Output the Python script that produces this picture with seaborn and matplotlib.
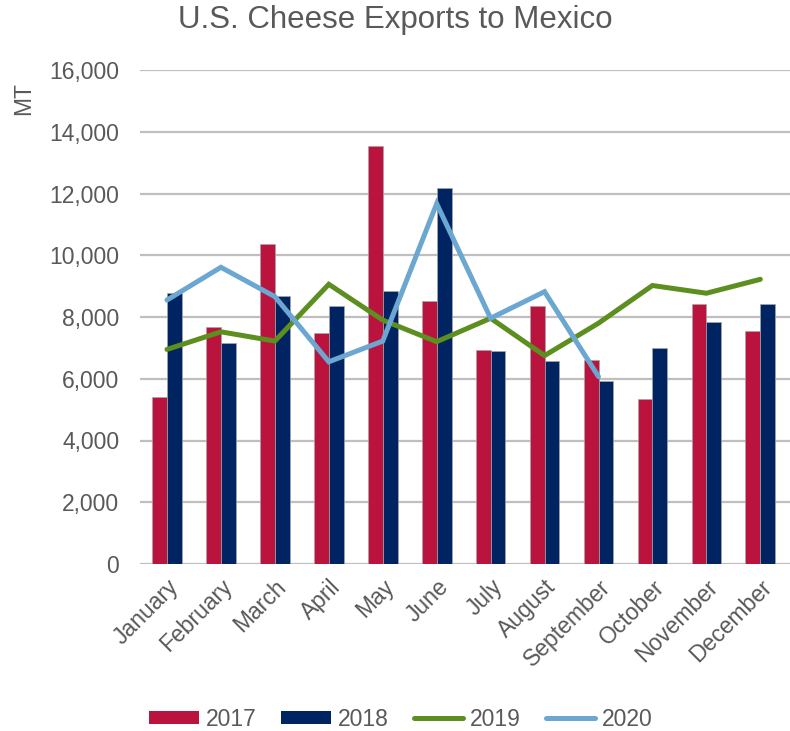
import matplotlib
matplotlib.use("Agg")
import matplotlib.pyplot as plt
import seaborn as sns
import pandas as pd
import numpy as np
from matplotlib.patches import Patch
from matplotlib.lines import Line2D

months = ["January", "February", "March", "April", "May", "June", "July",
          "August", "September", "October", "November", "December"]
exports_2017 = [5400, 7690, 10360, 7470, 13550, 8520, 6940, 8350, 6600, 5360, 8430, 7560]
exports_2018 = [8770, 7150, 8680, 8350, 8850, 12170, 6900, 6560, 5940, 6980, 7850, 8430]
exports_2019 = [6950, 7520, 7220, 9060, 7900, 7200, 7960, 6750, 7800, 9020, 8770, 9220]
exports_2020 = [8550, 9610, 8660, 6550, 7220, 11670, 7960, 8820, 6070]

bar_colors = {"2017": "#BA133D", "2018": "#002361"}
color_2019 = "#5C8F1F"
color_2020 = "#6BA7D0"
text_gray = "#595959"

bars = pd.DataFrame({
    "month": months * 2,
    "year": ["2017"] * 12 + ["2018"] * 12,
    "MT": exports_2017 + exports_2018,
})

sns.set_style("white")
plt.rcParams["font.family"] = ["Liberation Sans", "DejaVu Sans"]

fig = plt.figure(figsize=(7.9, 7.31), dpi=100)
ax = fig.add_axes([140 / 790, 1 - 564 / 731, 650 / 790, (564 - 70) / 731])

sns.barplot(data=bars, x="month", y="MT", hue="year", palette=bar_colors,
            width=0.55, gap=0, ax=ax, legend=False, saturation=1,
            edgecolor="#A6A6A6", linewidth=0.5, zorder=2)

ax.plot(np.arange(len(exports_2019)), exports_2019, color=color_2019,
        linewidth=3.6, solid_capstyle="round", solid_joinstyle="miter", zorder=3)
ax.plot(np.arange(len(exports_2020)), exports_2020, color=color_2020,
        linewidth=3.6, solid_capstyle="round", solid_joinstyle="miter", zorder=4)

ax.set_ylim(0, 16000)
ax.set_xlim(-0.5, 11.55)
ax.set_yticks(np.arange(0, 16001, 2000))
ax.set_yticklabels([f"{v:,}" for v in range(0, 16001, 2000)])
ax.yaxis.grid(True, color="#BFBFBF", linewidth=1.6)
ax.set_axisbelow(True)
for s in ax.spines.values():
    s.set_visible(False)
ax.tick_params(axis="both", length=0, labelsize=16.5, labelcolor=text_gray)
ax.tick_params(axis="y", pad=15)
ax.tick_params(axis="x", pad=8)
plt.setp(ax.get_xticklabels(), rotation=45, ha="right", rotation_mode="anchor")
ax.set_xlabel("")
ax.set_ylabel("")

fig.text(24 / 790, 1 - 99 / 731, "MT", rotation=90, fontsize=16.5, color=text_gray,
         ha="center", va="center")
fig.text(395 / 790, 1 - 20 / 731, "U.S. Cheese Exports to Mexico", fontsize=22.5,
         color=text_gray, ha="center", va="center")

handles = [
    Patch(facecolor=bar_colors["2017"], edgecolor="none"),
    Patch(facecolor=bar_colors["2018"], edgecolor="none"),
    Line2D([0], [0], color=color_2019, linewidth=3.6, solid_capstyle="round"),
    Line2D([0], [0], color=color_2020, linewidth=3.6, solid_capstyle="round"),
]
leg = fig.legend(handles, ["2017", "2018", "2019", "2020"], loc="center",
                 bbox_to_anchor=(401 / 790, 1 - 719 / 731), ncol=4, frameon=False,
                 fontsize=16.5, handlelength=2.15, handleheight=0.47,
                 columnspacing=1.1, handletextpad=0.3)
for t in leg.get_texts():
    t.set_color(text_gray)

fig.savefig("out.png", dpi=100)
